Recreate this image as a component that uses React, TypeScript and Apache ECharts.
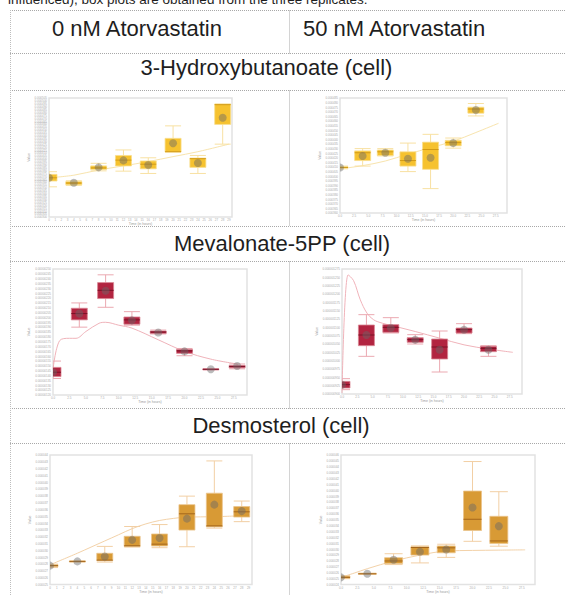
import React, { useEffect, useRef } from "react";
import * as echarts from "echarts";

const captionText = "influenced), box plots are obtained from the three replicates.";
const columnHeaders = ["0 nM Atorvastatin", "50 nM Atorvastatin"];
const rowTitles = ["3-Hydroxybutanoate (cell)", "Mevalonate-5PP (cell)", "Desmosterol (cell)"];
const xAxisTitle = "Time (in hours)";
const yAxisTitle = "Value";

const boxTimes0 = [0, 4, 8, 12, 16, 20, 24, 28];
const boxTimes50 = [0, 4, 8, 12, 16, 20, 24];

// box stats: [lower whisker, q1, median, q3, upper whisker] (in axis tick units)
const hydroxy0Boxes = [
  [10.4, 12.4, 13.5, 14.7, 15.6],
  [10.9, 11.1, 11.7, 12.2, 12.5],
  [15.9, 16.4, 16.9, 17.6, 18.5],
  [15.8, 17.6, 19.6, 21.2, 23.1],
  [15.0, 16.6, 18.2, 19.3, 20.4],
  [22.4, 22.4, 22.5, 27.1, 31.4],
  [15.0, 17.1, 20.1, 20.3, 21.2],
  [25.1, 31.9, 38.7, 38.9, 38.9],
];
const hydroxy0Means = [13.5, 11.8, 17.1, 19.5, 17.9, 25.4, 18.6, 34.2];
const hydroxy0TrendX = [0, 4, 8, 12, 16, 20, 24, 29];
const hydroxy0TrendY = [13.5, 14.4, 16.2, 17.6, 19.1, 20.8, 22.5, 25.1];

const hydroxy50Boxes = [
  [9.6, 9.77, 9.9, 10.06, 10.2],
  [10.2, 11.4, 13.1, 13.5, 14.0],
  [12.4, 12.5, 13.3, 13.7, 14.0],
  [9.0, 10.2, 11.4, 13.3, 15.2],
  [5.3, 9.5, 13.8, 15.4, 17.1],
  [14.1, 14.6, 15.3, 15.8, 16.3],
  [21.1, 21.7, 22.6, 23.0, 23.8],
];
const hydroxy50Means = [9.9, 12.4, 13.1, 11.8, 12.0, 15.2, 22.4];
const hydroxy50TrendX = [0, 4, 8, 12, 16, 20, 24, 28];
const hydroxy50TrendY = [9.6, 10.3, 11.3, 12.8, 14.2, 15.6, 17.5, 19.5];

const meva0Boxes = [
  [3.4, 3.8, 4.7, 5.7, 7.0],
  [14.0, 15.5, 16.8, 17.9, 19.0],
  [18.1, 19.9, 21.6, 23.2, 24.8],
  [14.4, 14.6, 15.5, 16.1, 17.2],
  [12.6, 12.7, 13.0, 13.2, 13.4],
  [8.1, 8.6, 9.1, 9.4, 9.6],
  [5.2, 5.2, 5.3, 5.4, 5.4],
  [5.4, 5.6, 5.9, 6.1, 6.4],
];
const meva0Means = [4.7, 16.8, 21.5, 15.4, 12.9, 9.0, 5.3, 6.0];
const meva0TrendX = [0, 1, 2.5, 3.5, 5, 7, 8, 10, 12, 16, 20, 24, 28];
const meva0TrendY = [5.2, 11.2, 11.7, 11.7, 13.1, 14.8, 15.0, 14.4, 13.8, 11.4, 9.0, 7.4, 6.4];

const meva50Boxes = [
  [0.52, 0.72, 1.12, 1.52, 1.84],
  [4.52, 5.8, 7.08, 8.28, 9.52],
  [7.32, 7.4, 8.0, 8.32, 9.16],
  [6.0, 6.2, 6.52, 6.76, 7.12],
  [2.64, 4.2, 5.64, 6.6, 7.56],
  [7.24, 7.32, 7.72, 7.92, 8.44],
  [4.52, 5.08, 5.48, 5.72, 5.8],
];
const meva50Means = [1.12, 7.08, 7.92, 6.52, 5.32, 7.72, 5.32];
const meva50TrendX = [0, 1, 1.9, 3, 4.1, 5.2, 6.6, 8, 12, 16, 20, 24, 28];
const meva50TrendY = [0.12, 14.3, 13.6, 11.3, 9.7, 8.9, 8.5, 8.24, 7.5, 6.7, 5.9, 5.4, 5.0];

const desmo0Boxes = [
  [2.5, 2.63, 2.78, 2.92, 3.0],
  [3.3, 3.35, 3.4, 3.45, 3.5],
  [3.3, 3.49, 3.59, 4.59, 5.6],
  [5.5, 5.6, 5.69, 7.08, 8.52],
  [5.41, 5.65, 5.93, 7.42, 8.8],
  [5.55, 7.99, 10.38, 11.72, 12.97],
  [8.28, 8.47, 8.61, 13.4, 18.13],
  [9.23, 9.9, 10.67, 11.44, 12.25],
];
const desmo0Means = [2.78, 3.4, 4.11, 6.56, 6.84, 9.67, 11.72, 10.77];
const desmo0TrendX = [0, 4, 6, 8, 10, 12, 14, 16, 18, 20, 24, 28];
const desmo0TrendY = [2.9, 4.6, 5.5, 6.4, 7.3, 8.2, 8.9, 9.4, 9.7, 9.9, 9.95, 10.1];

const desmo50Boxes = [
  [1.0, 1.06, 1.23, 1.45, 1.5],
  [1.75, 1.78, 1.84, 1.9, 1.93],
  [3.4, 3.57, 4.01, 4.57, 5.24],
  [3.68, 5.01, 6.3, 6.41, 6.57],
  [4.62, 5.4, 6.24, 6.57, 6.85],
  [7.35, 9.19, 11.09, 15.88, 20.89],
  [6.52, 6.96, 7.41, 11.59, 15.77],
];
const desmo50Means = [1.23, 1.84, 4.23, 5.57, 5.96, 13.09, 9.92];
const desmo50TrendX = [0, 2, 4, 8, 12, 16, 20, 24, 28];
const desmo50TrendY = [1.23, 1.95, 2.7, 4.0, 5.0, 5.7, 5.8, 5.85, 5.9];

// y tick label scales per panel
const yLabelBase = [0.0003, 0.00036, 0.0000012, 0.0000009, 0.000025, 0.000024];
const yLabelStep = [0.000005, 0.000005, 0.00000005, 0.000000025, 0.000001, 0.000001];
const yLabelDigits = [6, 6, 8, 9, 6, 6];
const yAxisMax = [41, 25, 26, 15, 19, 22];
const xTickStep = [1, 2.5, 2.5, 2.5, 1, 2.5];

const palettes = {
  hydroxy: { fill: "#f6c22f", edge: "#f9dd8c", median: "#d29b17", whisker: "#f8e1a2", trend: "#f8e4ad" },
  meva: { fill: "#b22440", edge: "#d98593", median: "#7a1026", whisker: "#eba9b1", trend: "#f0b3ba" },
  desmo: { fill: "#d89a35", edge: "#ebc48c", median: "#a4661c", whisker: "#f2cfa4", trend: "#f3d2a9" },
};

const FONT = "'Liberation Sans', Arial, Helvetica, sans-serif";

const panels = [
  { grid: { left: 49, top: 98, width: 183, height: 119 }, times: boxTimes0, boxes: hydroxy0Boxes, means: hydroxy0Means, tx: hydroxy0TrendX, ty: hydroxy0TrendY, pal: palettes.hydroxy, bw: 16, yGap: 12 },
  { grid: { left: 340, top: 98, width: 167, height: 115 }, times: boxTimes50, boxes: hydroxy50Boxes, means: hydroxy50Means, tx: hydroxy50TrendX, ty: hydroxy50TrendY, pal: palettes.hydroxy, bw: 16, yGap: 12 },
  { grid: { left: 53, top: 269, width: 194, height: 126 }, times: boxTimes0, boxes: meva0Boxes, means: meva0Means, tx: meva0TrendX, ty: meva0TrendY, pal: palettes.meva, bw: 16, yGap: 16 },
  { grid: { left: 342, top: 269, width: 180, height: 125 }, times: boxTimes50, boxes: meva50Boxes, means: meva50Means, tx: meva50TrendX, ty: meva50TrendY, pal: palettes.meva, bw: 16, yGap: 16 },
  { grid: { left: 50, top: 455, width: 202, height: 133 }, times: boxTimes0, boxes: desmo0Boxes, means: desmo0Means, tx: desmo0TrendX, ty: desmo0TrendY, pal: palettes.desmo, bw: 16, yGap: 13 },
  { grid: { left: 341, top: 455, width: 194, height: 132 }, times: boxTimes50, boxes: desmo50Boxes, means: desmo50Means, tx: desmo50TrendX, ty: desmo50TrendY, pal: palettes.desmo, bw: 18, yGap: 13 },
];

function buildOption() {
  const grids: any[] = [];
  const xAxes: any[] = [];
  const yAxes: any[] = [];
  const series: any[] = [];

  panels.forEach((p, i) => {
    grids.push({ ...p.grid, show: true, borderColor: "#e2e2e2", borderWidth: 1.5, backgroundColor: "#fff", containLabel: false });
    const step = xTickStep[i];
    xAxes.push({
      type: "value", gridIndex: i, min: 0, max: 29.5, interval: step,
      axisLine: { show: false }, axisTick: { show: false }, splitLine: { show: false },
      axisLabel: {
        fontSize: 3, color: "#aaa", margin: 1.5, fontFamily: FONT,
        formatter: (v: number) => {
          const k = v / step;
          if (Math.abs(k - Math.round(k)) > 1e-6) return "";
          return step === 1 ? String(Math.round(v)) : v.toFixed(1);
        },
      },
      name: xAxisTitle, nameLocation: "middle", nameGap: 5,
      nameTextStyle: { fontSize: 3.5, color: "#999", fontFamily: FONT },
    });
    yAxes.push({
      type: "value", gridIndex: i, min: 0, max: yAxisMax[i], interval: 1,
      axisLine: { show: false }, axisTick: { show: false }, splitLine: { show: false },
      axisLabel: {
        fontSize: 3, color: "#aaa", margin: 2, fontFamily: FONT,
        formatter: (v: number) => (yLabelBase[i] + v * yLabelStep[i]).toFixed(yLabelDigits[i]),
      },
      name: yAxisTitle, nameLocation: "middle", nameGap: p.yGap, nameRotate: 90,
      nameTextStyle: { fontSize: 3.5, color: "#999", fontFamily: FONT },
    });

    series.push({
      type: "line", xAxisIndex: i, yAxisIndex: i, z: 1,
      data: p.tx.map((x, k) => [x, p.ty[k]]),
      smooth: 0.35, showSymbol: false, symbol: "none", clip: true,
      lineStyle: { color: p.pal.trend, width: 1 },
      silent: true,
    });

    const pal = p.pal;
    const bw = p.bw;
    series.push({
      type: "custom", xAxisIndex: i, yAxisIndex: i, z: 2, clip: true,
      encode: { x: 0, y: [1, 2, 3, 4, 5, 6] },
      data: p.times.map((t, k) => [t, ...p.boxes[k], p.means[k]]),
      renderItem: (params: any, api: any) => {
        const x = api.value(0);
        const pLo = api.coord([x, api.value(1)]);
        const pQ1 = api.coord([x, api.value(2)]);
        const pMed = api.coord([x, api.value(3)]);
        const pQ3 = api.coord([x, api.value(4)]);
        const pHi = api.coord([x, api.value(5)]);
        const pMean = api.coord([x, api.value(6)]);
        const cs = params.coordSys;
        const cx = pLo[0];
        const h = bw / 2;
        const wStyle = { stroke: pal.whisker, lineWidth: 1 };
        return {
          type: "group",
          clipPath: { type: "rect", shape: { x: cs.x, y: cs.y, width: cs.width, height: cs.height } },
          children: [
            { type: "line", shape: { x1: cx, y1: pHi[1], x2: cx, y2: pQ3[1] }, style: wStyle },
            { type: "line", shape: { x1: cx, y1: pQ1[1], x2: cx, y2: pLo[1] }, style: wStyle },
            { type: "line", shape: { x1: cx - h, y1: pHi[1], x2: cx + h, y2: pHi[1] }, style: wStyle },
            { type: "line", shape: { x1: cx - h, y1: pLo[1], x2: cx + h, y2: pLo[1] }, style: wStyle },
            { type: "rect", shape: { x: cx - h, y: pQ3[1], width: bw, height: Math.max(pQ1[1] - pQ3[1], 0.8) }, style: { fill: pal.fill, stroke: pal.edge, lineWidth: 0.8 } },
            { type: "line", shape: { x1: cx - h, y1: pMed[1], x2: cx + h, y2: pMed[1] }, style: { stroke: pal.median, lineWidth: 1 } },
            { type: "circle", shape: { cx, cy: pMean[1], r: 4 }, style: { fill: "rgba(105,105,105,0.45)" } },
          ],
        };
      },
    });
  });

  const dot = { stroke: "#a8a8a8", lineWidth: 1, lineDash: [1, 1] };
  const hLines = [10.5, 53.5, 90.5, 226.5, 261.5, 408.5, 443.5];
  const vSegments = [[10.5, 53.5], [90.5, 226.5], [261.5, 408.5], [443.5, 595]];
  const graphic: any[] = [];
  hLines.forEach((y) => graphic.push({ type: "line", silent: true, shape: { x1: 10, y1: y, x2: 566, y2: y }, style: dot }));
  graphic.push({ type: "line", silent: true, shape: { x1: 10.5, y1: 10, x2: 10.5, y2: 595 }, style: { ...dot, stroke: "#bdbdbd" } });
  vSegments.forEach(([a, b]) => graphic.push({ type: "line", silent: true, shape: { x1: 289.5, y1: a, x2: 289.5, y2: b }, style: dot }));

  const txt = (text: string, x: number, y: number, size: number, align: string) => ({
    type: "text", silent: true, x, y,
    style: { text, fontSize: size, fontFamily: FONT, fill: "#1e1e1e", align, verticalAlign: "middle" },
  });
  graphic.push(txt(captionText, 8, -0.8, 13.5, "left"));
  graphic.push(txt(columnHeaders[0], 52, 28.4, 22, "left"));
  graphic.push(txt(columnHeaders[1], 303, 28.4, 22, "left"));
  graphic.push(txt(rowTitles[0], 266.5, 67.6, 22, "center"));
  graphic.push(txt(rowTitles[1], 282, 243.6, 22, "center"));
  graphic.push(txt(rowTitles[2], 281, 425.6, 22, "center"));

  return {
    animation: false,
    backgroundColor: "#fff",
    grid: grids,
    xAxis: xAxes,
    yAxis: yAxes,
    series,
    graphic,
  };
}

export default function App() {
  const ref = useRef<HTMLDivElement>(null);
  useEffect(() => {
    if (!ref.current) return;
    const chart = echarts.init(ref.current, undefined, { renderer: "svg" });
    chart.setOption(buildOption() as any);
    return () => chart.dispose();
  }, []);
  return (
    <div
      ref={ref}
      style={{ position: "absolute", left: 0, top: 0, width: 566, height: 595, background: "#fff" }}
    />
  );
}
